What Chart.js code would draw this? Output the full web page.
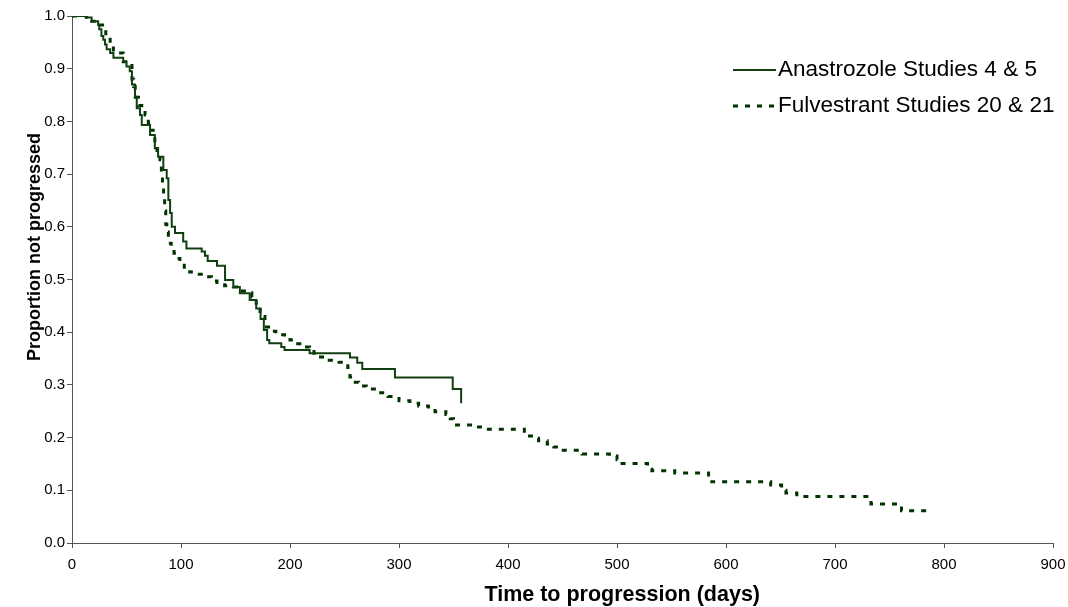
<!DOCTYPE html>
<html><head><meta charset="utf-8">
<script src="https://cdn.jsdelivr.net/npm/chart.js@4.4.1/dist/chart.umd.min.js"></script>
<style>html,body{margin:0;padding:0;background:#fff;}#wrap{width:1068px;height:607px;}</style>
</head><body><div id="wrap"><canvas id="c" width="1068" height="607"></canvas></div>
<script>
const seriesNames = ['Anastrozole Studies 4 & 5', 'Fulvestrant Studies 20 & 21'];
const anaDays = [0,13.5,18,24,25,27,28.7,30.3,31.8,35,38,47,50,53,55,57.8,59.4,62.4,64,71.6,76,79,83.8,86.9,88.4,90,91.5,94.5,102,105,119,122,124.5,133,140.4,148,154,163,169,173,176,179,181,192,195,218,255,261.7,266.3,296.3,349.3,357];
const anaProp = [1.0,0.997,0.99,0.983,0.975,0.962,0.955,0.946,0.937,0.93,0.921,0.913,0.904,0.895,0.87,0.847,0.825,0.812,0.793,0.774,0.749,0.733,0.708,0.692,0.651,0.626,0.60,0.588,0.572,0.559,0.553,0.545,0.535,0.526,0.499,0.486,0.474,0.461,0.445,0.425,0.404,0.385,0.379,0.372,0.366,0.36,0.352,0.342,0.33,0.314,0.292,0.265];
const fulDays = [0,13.5,18,24,31,35,38,47,55,56.5,58,61,64,67,70,72.5,76,78,80.7,82,83,84,85,86,87,88.4,91,93.6,96,99,103,108,115,123.6,128,133,140,148,154,160,165,169,172.5,177,182,187,195,200,205,209,218,222,228,236,245,253,255,258,263,270,280,290,300,310,318,327,333,343,347,350,370,380,415,423,428,436,442,448,468,493,500,503,528,532,553,584,587,641,651,655,665,733,761,785];
const fulProp = [1.0,0.997,0.99,0.983,0.96,0.949,0.93,0.913,0.88,0.866,0.846,0.83,0.82,0.812,0.797,0.783,0.76,0.745,0.727,0.70,0.68,0.655,0.63,0.605,0.59,0.569,0.558,0.55,0.54,0.531,0.52,0.514,0.51,0.505,0.497,0.49,0.488,0.486,0.478,0.475,0.467,0.45,0.43,0.41,0.402,0.395,0.39,0.385,0.378,0.372,0.368,0.36,0.353,0.347,0.343,0.333,0.315,0.305,0.298,0.292,0.285,0.278,0.27,0.265,0.26,0.255,0.249,0.244,0.236,0.224,0.22,0.216,0.203,0.199,0.194,0.188,0.182,0.176,0.169,0.165,0.158,0.151,0.14,0.137,0.133,0.125,0.116,0.11,0.10,0.095,0.088,0.074,0.061,0.059];
const xTickValues = [0,100,200,300,400,500,600,700,800,900];
const yTickValues = [0,0.1,0.2,0.3,0.4,0.5,0.6,0.7,0.8,0.9,1.0];
const xTitle = 'Time to progression (days)';
const yTitle = 'Proportion not progressed';

const FONT = "'Liberation Sans', Arial, sans-serif";
const toXY = (xs, ys) => xs.map((x, i) => ({x: x, y: ys[i]}));

const titlesPlugin = {
  id: 'axisTitles',
  afterDraw(chart) {
    const ctx = chart.ctx;
    ctx.save();
    ctx.fillStyle = '#000';
    ctx.font = 'bold 21.5px ' + FONT;
    ctx.textAlign = 'right';
    ctx.textBaseline = 'alphabetic';
    ctx.fillText(xTitle, 760, 601);
    ctx.translate(35, 247);
    ctx.rotate(-Math.PI / 2);
    ctx.font = 'bold 18px ' + FONT;
    ctx.textAlign = 'center';
    ctx.textBaseline = 'middle';
    ctx.fillText(yTitle, 0, 0);
    ctx.restore();
  }
};

const legendPlugin = {
  id: 'customLegend',
  afterDraw(chart) {
    const ctx = chart.ctx;
    const rows = [70, 106];
    chart.data.datasets.forEach((ds, i) => {
      const y = rows[i];
      ctx.save();
      ctx.strokeStyle = ds.borderColor;
      ctx.lineWidth = ds.borderWidth;
      ctx.setLineDash(ds.borderDash || []);
      ctx.beginPath();
      ctx.moveTo(733, y);
      ctx.lineTo(776, y);
      ctx.stroke();
      ctx.setLineDash([]);
      ctx.font = '22.5px ' + FONT;
      ctx.fillStyle = '#000';
      ctx.textAlign = 'left';
      ctx.textBaseline = 'alphabetic';
      ctx.fillText(ds.label, 778, y + 5.5);
      ctx.restore();
    });
  }
};

new Chart(document.getElementById('c'), {
  type: 'line',
  data: {
    datasets: [
      {label: seriesNames[0], data: toXY(anaDays, anaProp), borderColor: '#123f12', borderWidth: 2, stepped: 'before', pointRadius: 0, fill: false},
      {label: seriesNames[1], data: toXY(fulDays, fulProp), borderColor: '#003300', borderWidth: 3, borderDash: [5, 7], stepped: 'before', pointRadius: 0, fill: false}
    ]
  },
  options: {
    responsive: false,
    animation: false,
    devicePixelRatio: 1,
    parsing: false,
    layout: {padding: {left: 0, right: 15, top: 16, bottom: 0}},
    plugins: {legend: {display: false}, tooltip: {enabled: false}},
    scales: {
      x: {
        type: 'linear', min: 0, max: 900,
        afterBuildTicks: s => { s.ticks = xTickValues.map(v => ({value: v})); },
        afterFit: s => { s.height = 64; s.paddingRight = 0; s.paddingLeft = 0; },
        grid: {drawOnChartArea: false, drawTicks: true, tickLength: 5, color: '#555', tickColor: '#555'},
        border: {display: true, color: '#555', width: 1},
        ticks: {font: {size: 15, family: FONT}, color: '#000', padding: 8, maxRotation: 0, autoSkip: false, callback: v => String(v)},
        title: {display: false}
      },
      y: {
        type: 'linear', min: 0, max: 1,
        afterBuildTicks: s => { s.ticks = yTickValues.map(v => ({value: v})); },
        afterFit: s => { s.width = 72; s.paddingTop = 0; s.paddingBottom = 0; },
        grid: {drawOnChartArea: false, drawTicks: true, tickLength: 5, color: '#555', tickColor: '#555'},
        border: {display: true, color: '#555', width: 1},
        ticks: {font: {size: 15, family: FONT}, color: '#000', padding: 2, autoSkip: false, callback: v => Number(v).toFixed(1)},
        title: {display: false}
      }
    }
  },
  plugins: [titlesPlugin, legendPlugin]
});
</script>
</body></html>
